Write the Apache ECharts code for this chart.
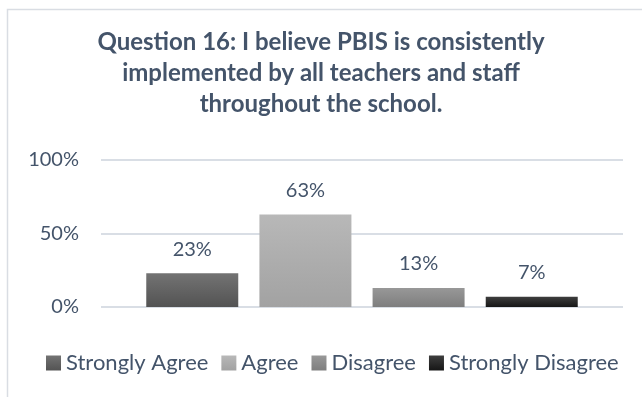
<!DOCTYPE html>
<html>
<head>
<meta charset="utf-8">
<script src="https://cdn.jsdelivr.net/npm/echarts@6/dist/echarts.min.js"></script>
<style>
html,body{margin:0;padding:0;background:#fff;}
#chart{width:642px;height:397px;}
</style>
</head>
<body>
<div id="chart"></div>
<script>
var titleText = 'Question 16: I believe PBIS is consistently\nimplemented by all teachers and staff\nthroughout the school.';
var categories = ['Strongly Agree', 'Agree', 'Disagree', 'Strongly Disagree'];
var values = [23, 63, 13, 7];
var yTicks = [0, 50, 100];
var topColors = ['#737373', '#b8b8b8', '#989898', '#3e3e3e'];
var bottomColors = ['#535353', '#a2a2a2', '#7e7e7e', '#161616'];

var FONT = 'Lato';
var TXT = '#44546A';

function draw() {
  var chart = echarts.init(document.getElementById('chart'), null, {renderer: 'canvas'});
  var series = categories.map(function (name, i) {
    return {
      name: name,
      type: 'bar',
      data: [values[i]],
      barWidth: 92,
      barGap: '23%',
      itemStyle: {
        color: {
          type: 'linear', x: 0, y: 0, x2: 0, y2: 1,
          colorStops: [{offset: 0, color: topColors[i]}, {offset: 1, color: bottomColors[i]}]
        }
      },
      label: {
        show: true,
        position: 'top',
        distance: 14,
        formatter: '{c}%',
        fontFamily: FONT,
        fontSize: 20,
        color: TXT
      }
    };
  });

  chart.setOption({
    animation: false,
    backgroundColor: '#fff',
    graphic: [{
      type: 'rect',
      shape: {x: 7.5, y: 9.5, width: 800, height: 600},
      style: {fill: 'none', stroke: '#D9DDE3', lineWidth: 1.5},
      silent: true
    }],
    title: {
      text: titleText,
      left: 'center',
      top: 27,
      padding: [0, 34, 0, 0],
      textStyle: {
        fontFamily: FONT,
        fontSize: 24,
        fontWeight: 'bold',
        lineHeight: 31,
        color: TXT
      }
    },
    legend: {
      data: categories,
      bottom: 23,
      left: 46,
      padding: 0,
      itemWidth: 15,
      itemHeight: 15,
      itemGap: 13,
      icon: 'rect',
      textStyle: {fontFamily: FONT, fontSize: 22, color: TXT}
    },
    grid: {left: 101, right: 19, top: 160, bottom: 90, containLabel: false},
    xAxis: {
      type: 'category',
      data: [''],
      axisLine: {show: false},
      axisTick: {show: false},
      axisLabel: {show: false}
    },
    yAxis: {
      type: 'value',
      min: yTicks[0],
      max: yTicks[yTicks.length - 1],
      interval: yTicks[1] - yTicks[0],
      axisLine: {show: false},
      axisTick: {show: false},
      axisLabel: {formatter: '{value}%', fontFamily: FONT, fontSize: 20, color: TXT, margin: 22},
      splitLine: {lineStyle: {color: '#D9DEE5', width: 2}}
    },
    series: series
  });
}

if (document.fonts && document.fonts.load) {
  Promise.all([document.fonts.load('bold 24px Lato'), document.fonts.load('20px Lato')]).then(draw, draw);
} else {
  draw();
}
</script>
</body>
</html>
